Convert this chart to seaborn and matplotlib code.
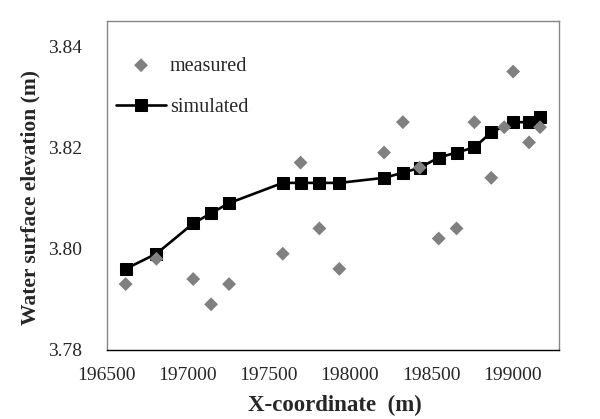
import numpy as np
import pandas as pd
import matplotlib
matplotlib.use('Agg')
import matplotlib.pyplot as plt
import seaborn as sns

# data
x_meas = [196616, 196806, 197033, 197143, 197254, 197585, 197695, 197811, 197934,
          198210, 198326, 198430, 198547, 198657, 198767, 198871, 198951, 199006,
          199104, 199172]
y_meas = [3.793, 3.798, 3.794, 3.789, 3.793, 3.799, 3.817, 3.804, 3.796,
          3.819, 3.825, 3.816, 3.802, 3.804, 3.825, 3.814, 3.824, 3.835,
          3.821, 3.824]

x_sim = [196616, 196806, 197033, 197143, 197254, 197585, 197695, 197811, 197934,
         198210, 198326, 198430, 198547, 198657, 198767, 198871, 199006,
         199104, 199172]
y_sim = [3.796, 3.799, 3.805, 3.807, 3.809, 3.813, 3.813, 3.813, 3.813,
         3.814, 3.815, 3.816, 3.818, 3.819, 3.820, 3.823, 3.825,
         3.825, 3.826]

x_ticks = [196500, 197000, 197500, 198000, 198500, 199000]
y_ticks = [3.78, 3.80, 3.82, 3.84]

meas = pd.DataFrame({'x': x_meas, 'y': y_meas})
sim = pd.DataFrame({'x': x_sim, 'y': y_sim})

sns.set_style('white')
plt.rcParams['font.family'] = ['Liberation Serif', 'DejaVu Serif']

fig = plt.figure(figsize=(6, 4.19), dpi=100)
ax = fig.add_axes([0.178, 0.165, 0.754, 0.785])

sns.lineplot(data=sim, x='x', y='y', ax=ax, color='black', linewidth=1.9,
             marker='s', markersize=8.5, markeredgecolor='black',
             label='simulated', zorder=2, sort=False)
sns.scatterplot(data=meas, x='x', y='y', ax=ax, color='#808080', marker='D',
                s=50, edgecolor='none', label='measured', zorder=3)

ax.set_xlim(196500, 199290)
ax.set_ylim(3.78, 3.845)
ax.set_xticks(x_ticks)
ax.set_yticks(y_ticks)
ax.set_yticklabels([f'{v:.2f}' for v in y_ticks])
ax.tick_params(axis='both', labelsize=14, direction='out', length=5,
               color='#868686', width=1)
ax.tick_params(axis='x', pad=7)
ax.tick_params(axis='y', pad=13)

for s in ['top', 'right', 'left']:
    ax.spines[s].set_color('#868686')
    ax.spines[s].set_linewidth(1)
ax.spines['bottom'].set_color('black')
ax.spines['bottom'].set_linewidth(1)

ax.set_xlabel('X-coordinate  (m)', fontsize=16.5, fontweight='bold')
ax.set_ylabel('Water surface elevation (m)', fontsize=15.5, fontweight='bold')
ax.xaxis.set_label_coords(0.504, -0.137)
ax.yaxis.set_label_coords(-0.146, 0.462)

h, l = ax.get_legend_handles_labels()
order = [l.index('measured'), l.index('simulated')]
ax.legend([h[i] for i in order], [l[i] for i in order], loc='upper left',
          frameon=False, fontsize=14.5, handlelength=2.45, handletextpad=0.2,
          labelspacing=1.1, borderaxespad=0.3, bbox_to_anchor=(-0.01, 0.935))

fig.savefig('out.png', dpi=100)
